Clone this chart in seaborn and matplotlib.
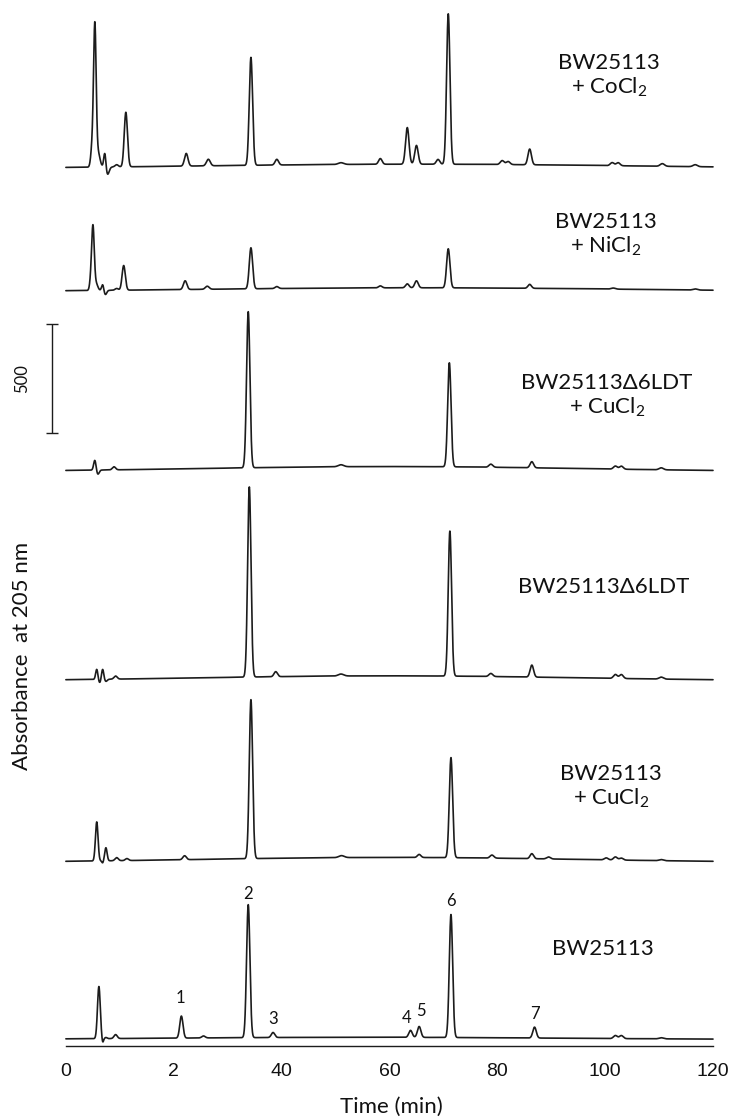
import numpy as np
import pandas as pd
import matplotlib
matplotlib.use("Agg")
import matplotlib.pyplot as plt
import seaborn as sns

# ------------------------------------------------------------------
# peak tables
# retention time (min), height (mAU), sigma (min); negative = dip,
# very wide entries = baseline drift
# ------------------------------------------------------------------
CO_T = [4.85, 5.35, 5.95, 7.2, 7.7, 9.4, 11.1, 22.3, 26.4, 34.3, 39.1, 51.0, 58.3,
        63.3, 65.0, 69.0, 70.9, 80.9, 82.0, 86.0, 101.3, 102.4, 110.6, 116.7, 65.0]
CO_H = [90, 640, 65, 70, -35, 10, 250, 58, 30, 495, 26, 8, 26,
        168, 86, 22, 690, 18, 14, 72, 14, 14, 12, 9, 20]
CO_W = [0.25, 0.24, 0.35, 0.2, 0.3, 0.3, 0.3, 0.32, 0.35, 0.31, 0.32, 0.5, 0.32,
        0.32, 0.32, 0.32, 0.31, 0.35, 0.35, 0.32, 0.35, 0.35, 0.4, 0.4, 40]

NI_T = [4.6, 5.0, 5.6, 6.8, 7.3, 9.4, 10.7, 22.1, 26.2, 34.3, 39.1, 58.3,
        63.3, 65.0, 70.9, 86.0, 101.5, 116.7, 65.0]
NI_H = [40, 290, 30, 28, -20, 8, 113, 40, 14, 188, 9, 9,
        18, 32, 179, 18, 5, 5, 18]
NI_W = [0.22, 0.24, 0.3, 0.2, 0.25, 0.3, 0.3, 0.32, 0.35, 0.31, 0.32, 0.32,
        0.32, 0.32, 0.31, 0.32, 0.4, 0.4, 40]

DCU_T = [5.35, 5.9, 8.9, 33.8, 51.0, 71.1, 78.8, 86.4, 101.9, 103.0, 110.4, 60.0]
DCU_H = [46, -20, 14, 716, 9, 477, 14, 28, 14, 14, 9, 23]
DCU_W = [0.22, 0.25, 0.3, 0.31, 0.5, 0.31, 0.35, 0.32, 0.35, 0.35, 0.4, 35]

D_T = [5.7, 6.25, 6.8, 7.4, 9.2, 34.0, 38.9, 51.0, 71.2, 78.8, 86.4, 101.9, 103.0, 110.4, 60.0]
D_H = [46, -16, 46, -10, 14, 872, 23, 9, 665, 14, 55, 18, 18, 9, 23]
D_W = [0.2, 0.2, 0.2, 0.25, 0.3, 0.31, 0.32, 0.5, 0.31, 0.35, 0.32, 0.35, 0.35, 0.4, 35]

CU_T = [5.7, 6.8, 7.4, 9.4, 11.3, 22.0, 34.3, 51.1, 65.5, 71.4, 79.0, 86.4, 89.5,
        100.2, 101.9, 103.0, 110.4, 60.0]
CU_H = [179, -10, 60, 14, 9, 18, 729, 9, 14, 459, 14, 23, 9,
        9, 14, 9, 5, 23]
CU_W = [0.24, 0.15, 0.22, 0.3, 0.3, 0.32, 0.31, 0.5, 0.32, 0.31, 0.35, 0.32, 0.35,
        0.35, 0.35, 0.35, 0.4, 35]

WT_T = [6.1, 6.8, 7.4, 9.2, 21.4, 25.5, 33.8, 38.4, 63.9, 65.5, 71.4, 86.9,
        101.9, 103.0, 110.4, 55.0]
WT_H = [239, -20, 5, 18, 101, 9, 610, 23, 32, 50, 564, 50,
        14, 14, 5, 10]
WT_W = [0.26, 0.15, 0.2, 0.3, 0.3, 0.32, 0.31, 0.32, 0.32, 0.32, 0.31, 0.32,
        0.35, 0.35, 0.4, 35]

SAMPLES = ["BW25113\n+ CoCl$\\mathregular{_2}$",
           "BW25113\n+ NiCl$\\mathregular{_2}$",
           "BW25113\u03946LDT\n+ CuCl$\\mathregular{_2}$",
           "BW25113\u03946LDT",
           "BW25113\n+ CuCl$\\mathregular{_2}$",
           "BW25113"]

PEAK_NUMS = ["1", "2", "3", "4", "5", "6", "7"]
PEAK_NUM_T = [21.4, 33.8, 38.4, 63.9, 65.5, 71.4, 86.9]

X_TICKS = [0, 10, 20, 30, 40, 50, 60, 70, 80, 90, 100, 110, 120]
X_TICK_LABELS = ["0", "", "2", "", "40", "", "60", "", "80", "", "100", "", "120"]

SCALE_BAR = 500  # mAU

# ------------------------------------------------------------------
# layout
# ------------------------------------------------------------------
W, H = 743, 1120
OFFSETS = [4025, 3460, 2635, 1675, 842, 30]          # stacking offset of each trace
LABEL_XY = [(609, 76), (606, 235), (607, 396), (604, 587), (611, 787), (603, 949)]  # px
NUM_DX = [-1, 0, 0, -3, 1.5, 0, 0]     # points
NUM_DY = [13, 8, 10, 8.6, 10.8, 9.4, 9.4]
Y_TOP = 1046 / 0.218

sns.set_style("white")
plt.rcParams['font.family'] = ['Lato', 'DejaVu Sans']
plt.rcParams['mathtext.fontset'] = 'custom'
plt.rcParams['mathtext.rm'] = 'Lato'

tables = [(CO_T, CO_H, CO_W), (NI_T, NI_H, NI_W), (DCU_T, DCU_H, DCU_W),
          (D_T, D_H, D_W), (CU_T, CU_H, CU_W), (WT_T, WT_H, WT_W)]

t = np.arange(-0.5, 120.3, 0.02)
frames = []
for name, (pt, ph, pw), off in zip(SAMPLES, tables, OFFSETS):
    y = np.zeros_like(t)
    for c, h, w in zip(pt, ph, pw):
        y += h * np.exp(-0.5 * ((t - c) / w) ** 2)
    frames.append(pd.DataFrame({'time': t, 'signal': y + off, 'sample': name}))
df = pd.concat(frames, ignore_index=True)

fig = plt.figure(figsize=(W / 100, H / 100), dpi=100)
ax = fig.add_axes([66 / W, 74 / H, 647 / W, 1046 / H])

sns.lineplot(data=df, x='time', y='signal', units='sample', estimator=None,
             sort=False, color='#1c1c1c', linewidth=1.2, ax=ax)
for ln in ax.lines:
    ln.set_clip_on(False)

ax.set_xlim(0, 120)
ax.set_ylim(0, Y_TOP)
ax.set_xlabel("")
ax.set_ylabel("")
ax.set_yticks([])
ax.set_xticks(X_TICKS)
ax.set_xticklabels(X_TICK_LABELS, family='Liberation Sans', fontsize=14, color='#111111')
ax.tick_params(axis='x', direction='out', length=3, width=1.0, color='#1c1c1c', pad=9)
for s in ['left', 'right', 'top']:
    ax.spines[s].set_visible(False)
ax.spines['bottom'].set_linewidth(1.0)
ax.spines['bottom'].set_color('#1c1c1c')

# peak numbers on the wild-type trace
wt = df[df['sample'] == SAMPLES[-1]]
for lab, pt, dx, dy in zip(PEAK_NUMS, PEAK_NUM_T, NUM_DX, NUM_DY):
    top = wt.loc[(wt['time'] - pt).abs() < 0.5, 'signal'].max()
    ax.annotate(lab, (pt, top), xytext=(dx, dy), textcoords='offset points',
                ha='center', va='center', fontsize=12, color='#111111')

# sample names
for name, (px, py) in zip(SAMPLES, LABEL_XY):
    fig.text(px / W, 1 - py / H, name, ha='center', va='center', fontsize=16,
             linespacing=1.2, multialignment='center', color='#111111')

# scale bar
bar_y0 = (1046 - 433) / 0.218
ax.errorbar([-2.6], [bar_y0 + SCALE_BAR / 2], yerr=[SCALE_BAR / 2], color='#1c1c1c',
            capsize=4.3, elinewidth=1.0, capthick=1.0, fmt='none', clip_on=False)
ax.text(-8.2, bar_y0 + SCALE_BAR / 2, str(SCALE_BAR), rotation=90, ha='center',
        va='center', fontsize=12, color='#111111')

fig.text(391 / W, 1 - 1107 / H, "Time (min)", ha='center', va='center', fontsize=16,
         color='#111111')
fig.text(22 / W, 1 - 656 / H, "Absorbance  at 205 nm", rotation=90, ha='center',
         va='center', fontsize=16, color='#111111')

fig.savefig("out.png", dpi=100)
